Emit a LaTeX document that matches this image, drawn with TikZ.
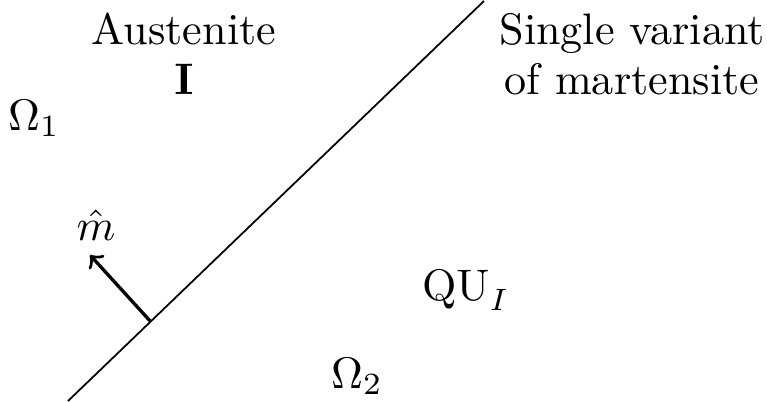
\documentclass[tikz,border=0pt]{standalone}
\usepackage{amsmath}
\begin{document}
\begin{tikzpicture}[x=0.2265pt,y=-0.2265pt,
  lbl/.style={inner sep=0pt,anchor=base}]
\useasboundingbox (0,0) rectangle (767,401);
\coordinate (lb) at (68,401);
\coordinate (lt) at (484,1);
\draw[line width=0.4pt] (lb) -- (lt);
\coordinate (as) at (151,322);
\coordinate (ae) at (90,255);
\draw[line width=0.75pt,-to] (as) -- (ae);
\node[lbl] (mh) at (96,240) {$\hat{m}$};
\node[lbl] (aus) at (184,44) {Austenite};
\node[lbl] (I) at (184,94) {$\mathbf{I}$};
\node[lbl] (o1) at (34,130) {$\Omega_1$};
\node[lbl] (sv) at (632,44) {Single variant};
\node[lbl] (om) at (632,94) {of martensite};
\node[lbl] (qu) at (466,300) {$\mathrm{QU}_I$};
\node[lbl] (o2) at (357,388) {$\Omega_2$};
\end{tikzpicture}
\end{document}
